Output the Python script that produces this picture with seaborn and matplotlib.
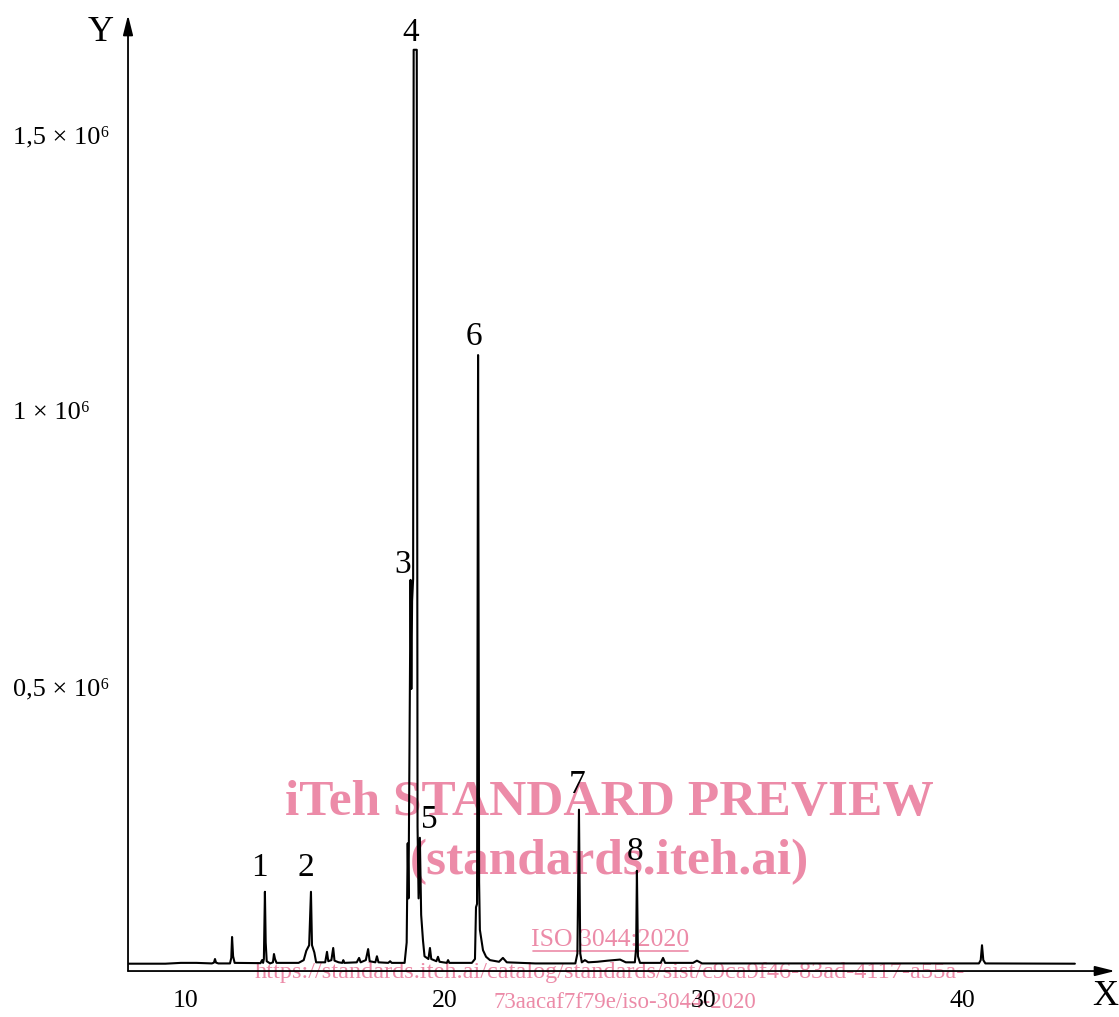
import matplotlib
matplotlib.use("Agg")

import numpy as np
import matplotlib.pyplot as plt
import seaborn as sns
from matplotlib import transforms
from matplotlib.lines import Line2D

# ------------------------------------------------------------------
# data
# ------------------------------------------------------------------

# retention time (x) and detector signal in thousands (y), trace vertices
rt = [
    7.76, 9.2, 9.8, 10.4, 11.0, 11.08, 11.12, 11.16, 11.25, 11.70,
    11.75, 11.78, 11.82, 11.88, 12.88, 12.94, 12.98, 13.01, 13.05, 13.08,
    13.12, 13.25, 13.36, 13.40, 13.44, 13.50, 14.35, 14.55, 14.65, 14.76,
    14.83, 14.87, 14.96, 15.03, 15.38, 15.45, 15.50, 15.62, 15.69, 15.74,
    15.90, 16.04, 16.08, 16.12, 16.60, 16.69, 16.75, 16.95, 17.04, 17.10,
    17.32, 17.38, 17.44, 17.82, 17.89, 17.95, 18.45, 18.53, 18.57, 18.60,
    18.64, 18.68, 18.71, 18.74, 18.78, 18.80, 18.92, 18.95, 18.99, 19.04,
    19.09, 19.16, 19.22, 19.37, 19.43, 19.48, 19.68, 19.74, 19.80, 20.08,
    20.13, 20.18, 21.05, 21.17, 21.21, 21.25, 21.29, 21.33, 21.36, 21.48,
    21.60, 21.75, 22.10, 22.25, 22.40, 23.5, 25.05, 25.13, 25.19, 25.24,
    25.30, 25.42, 25.55, 25.9, 26.3, 26.78, 27.0, 27.35, 27.40, 27.43,
    27.47, 27.55, 28.35, 28.44, 28.52, 29.60, 29.75, 29.95, 40.65, 40.72,
    40.77, 40.82, 40.90, 44.36,
]
signal_k = [
    1.5, 1.5, 3.0, 3.0, 2.0, 3.5, 10, 3.5, 2, 2,
    12, 50, 15, 3, 2.5, 8, 3, 10, 132, 40,
    6, 2, 4, 19, 10, 3, 3, 8, 25, 35,
    132, 35, 22, 4, 4, 23, 6, 8, 30, 7,
    4, 3, 8, 3, 4, 12, 4, 8, 28, 6,
    4, 15, 4, 3, 6, 3, 3, 40, 220, 120,
    400, 698, 500, 660, 700, 1660, 1660, 250, 120, 230,
    90, 44, 15, 10, 30, 10, 6, 14, 5, 3,
    8, 3, 3, 10, 104, 110, 1106, 150, 63, 26,
    14, 8, 5, 12, 4, 2, 2, 20, 281, 20,
    4, 8, 4, 5, 7, 9, 4, 4, 30, 170,
    15, 3, 3, 12, 3, 3, 7, 2, 2, 8,
    35, 8, 2, 1.5,
]

# numbered peaks: label, retention time, apex (thousands)
peak_ids = ["1", "2", "3", "4", "5", "6", "7", "8"]
peak_rt = [13.05, 14.83, 18.68, 18.86, 19.04, 21.29, 25.19, 27.43]
peak_top_k = [132, 132, 698, 1660, 230, 1106, 281, 170]

x_ticks = [10, 20, 30, 40]
y_ticks = [0.5e6, 1e6, 1.5e6]
y_tick_labels = ["0,5 × 10⁶", "1 × 10⁶", "1,5 × 10⁶"]

# label offsets in points (dx, dy) from each apex
label_offsets = [(-4, 6), (-4, 6), (-6, 0), (-3, 1), (7, 2), (-3, 2), (-1, 7), (-1, 3)]

# ------------------------------------------------------------------
# style
# ------------------------------------------------------------------

sns.set_style("white")
SERIF = ["Liberation Serif", "DejaVu Serif"]
plt.rcParams["font.family"] = SERIF
plt.rcParams["axes.unicode_minus"] = False
plt.rcParams["text.color"] = "black"
plt.rcParams["xtick.color"] = "black"
plt.rcParams["ytick.color"] = "black"

PINK = "#EC8BA8"

fig = plt.figure(figsize=(11.19, 10.17), dpi=100)
ax = fig.add_axes([0.1144, 0.0452, 0.882, 0.940])
ax.set_facecolor("none")   # let the watermark sit behind the trace

signal = np.array(signal_k) * 1e3
sns.lineplot(x=rt, y=signal, estimator=None, sort=False,
             color="black", lw=1.5, ax=ax, zorder=3)

ax.set_xlim(7.758, 45.91)
ax.set_ylim(-11.8e3, 1.723e6)

for s in ax.spines.values():
    s.set_visible(False)

# axes drawn as arrows
arrow = dict(arrowstyle="-|>,head_length=0.6,head_width=0.15", color="black",
             lw=1.3, shrinkA=0, shrinkB=0, mutation_scale=20)
ax.annotate("", xy=(0, 1), xytext=(0, 0), xycoords="axes fraction",
            textcoords="axes fraction", arrowprops=arrow, zorder=4)
ax.annotate("", xy=(1, 0), xytext=(0, 0), xycoords="axes fraction",
            textcoords="axes fraction", arrowprops=arrow, zorder=4)

ax.set_xticks(x_ticks)
ax.set_xticklabels([str(t) for t in x_ticks], fontsize=18.5)
ax.set_yticks(y_ticks)
ax.set_yticklabels([])
ax.tick_params(axis="both", direction="out", length=6, width=1, color="black")
ax.tick_params(axis="x", pad=8)
ax.grid(False)

# y tick labels, left aligned like the original
blend = transforms.blended_transform_factory(ax.transAxes, ax.transData)
for val, lab in zip(y_ticks, y_tick_labels):
    ax.text(-0.1165, val, lab, transform=blend, ha="left", va="center",
            fontsize=19, family=SERIF)

ax.text(-0.028, 0.982, "Y", transform=ax.transAxes, ha="center", va="center",
        fontsize=26)
ax.text(0.99, -0.027, "X", transform=ax.transAxes, ha="center", va="center",
        fontsize=26, clip_on=False)

# peak numbers
for lab, x, h, (dx, dy) in zip(peak_ids, peak_rt, peak_top_k, label_offsets):
    ax.annotate(lab, xy=(x, h * 1e3), xytext=(dx, dy), textcoords="offset points",
                ha="center", va="bottom", fontsize=24, zorder=5)

# ------------------------------------------------------------------
# watermark (drawn beneath the axes content)
# ------------------------------------------------------------------

wm = dict(ha="center", va="center", color=PINK, zorder=-1)
fig.text(0.545, 0.2104, "iTeh STANDARD PREVIEW", fontsize=37, fontweight="bold", **wm)
fig.text(0.545, 0.1524, "(standards.iteh.ai)", fontsize=37, fontweight="bold", **wm)
fig.text(0.545, 0.0757, "ISO 3044:2020", fontsize=18.5, **wm)
fig.add_artist(Line2D([533 / 1119, 688 / 1119], [1 - 951 / 1017, 1 - 951 / 1017],
                      color=PINK, lw=1.2, zorder=-1))
fig.text(0.545, 0.0433,
         "https://standards.iteh.ai/catalog/standards/sist/c9ca9f46-83ad-4117-a55a-",
         fontsize=17.5, **wm)
fig.text(0.5585, 0.0138, "73aacaf7f79e/iso-3044-2020", fontsize=16.5, **wm)

fig.savefig("out.png", dpi=100)
plt.close(fig)
